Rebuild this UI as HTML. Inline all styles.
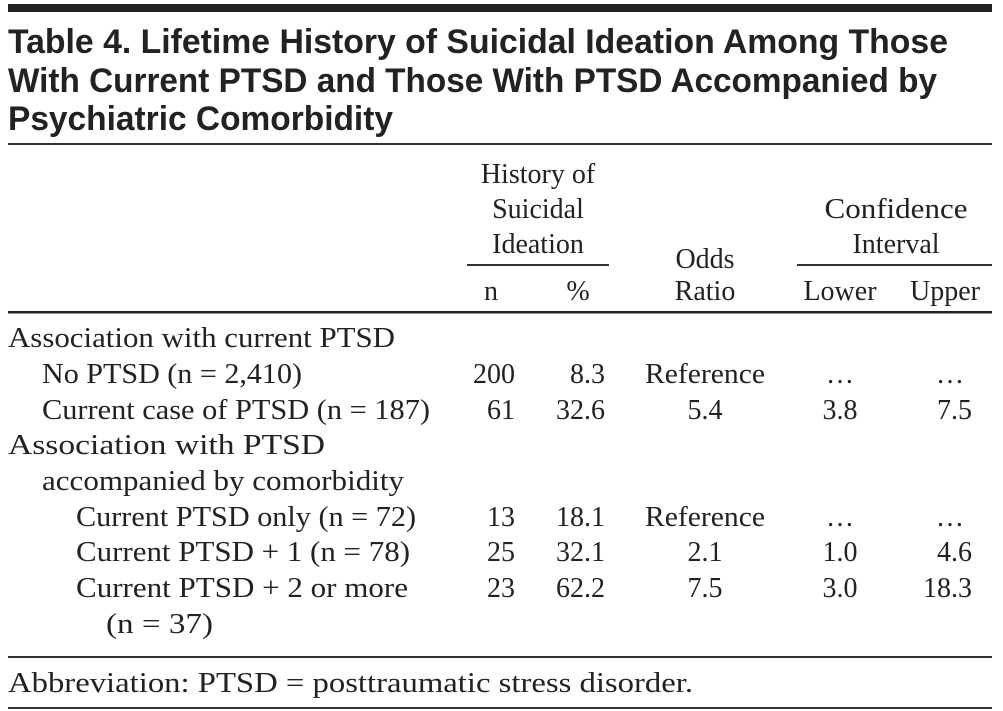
<!DOCTYPE html>
<html><head><meta charset="utf-8"><style>
html,body{margin:0;padding:0;background:#fff;}
svg{display:block;}
.t{font-family:"Liberation Sans",sans-serif;font-weight:bold;font-size:34px;fill:#222;}
.s{font-family:"Liberation Serif",serif;font-size:28px;fill:#222;}
</style></head><body>
<svg width="1003" height="711" viewBox="0 0 1003 711">
<rect x="8" y="4" width="984" height="8" fill="#222"/>
<g>
<text class="t" x="8" y="53" textLength="940" lengthAdjust="spacingAndGlyphs">Table 4. Lifetime History of Suicidal Ideation Among Those</text>
<text class="t" x="8" y="92" textLength="929" lengthAdjust="spacingAndGlyphs">With Current PTSD and Those With PTSD Accompanied by</text>
<text class="t" x="8" y="130" textLength="385" lengthAdjust="spacingAndGlyphs">Psychiatric Comorbidity</text>
</g>
<rect x="8" y="143" width="984" height="2" fill="#333"/>
<g text-anchor="middle">
<text class="s" x="538" y="183">History of</text>
<text class="s" x="538" y="218">Suicidal</text>
<text class="s" x="538" y="253">Ideation</text>
<text class="s" x="705" y="268">Odds</text>
<text class="s" x="705" y="300">Ratio</text>
<text class="s" x="896" y="218" textLength="143" lengthAdjust="spacingAndGlyphs">Confidence</text>
<text class="s" x="896" y="253">Interval</text>
<text class="s" x="491" y="300">n</text>
<text class="s" x="578" y="300">%</text>
<text class="s" x="840" y="300">Lower</text>
<text class="s" x="945" y="300">Upper</text>
</g>
<rect x="467" y="264" width="142" height="2" fill="#333"/>
<rect x="797" y="264" width="195" height="2" fill="#333"/>
<rect x="8" y="311" width="984" height="2.5" fill="#222"/>
<g>
<text class="s" x="8" y="347" textLength="387" lengthAdjust="spacingAndGlyphs">Association with current PTSD</text>
<text class="s" x="42" y="383" textLength="260" lengthAdjust="spacingAndGlyphs">No PTSD (n = 2,410)</text>
<text class="s" x="42" y="419" textLength="388" lengthAdjust="spacingAndGlyphs">Current case of PTSD (n = 187)</text>
<text class="s" x="8" y="454" textLength="317" lengthAdjust="spacingAndGlyphs">Association with PTSD</text>
<text class="s" x="42" y="490" textLength="362" lengthAdjust="spacingAndGlyphs">accompanied by comorbidity</text>
<text class="s" x="76" y="526" textLength="340" lengthAdjust="spacingAndGlyphs">Current PTSD only (n = 72)</text>
<text class="s" x="76" y="561" textLength="334" lengthAdjust="spacingAndGlyphs">Current PTSD + 1 (n = 78)</text>
<text class="s" x="76" y="597" textLength="332" lengthAdjust="spacingAndGlyphs">Current PTSD + 2 or more</text>
<text class="s" x="106" y="633" textLength="107" lengthAdjust="spacingAndGlyphs">(n = 37)</text>
</g>
<g>
<g text-anchor="end">
<text class="s" x="515" y="383">200</text><text class="s" x="605" y="383">8.3</text>
<text class="s" x="515" y="419">61</text><text class="s" x="605" y="419">32.6</text>
<text class="s" x="515" y="526">13</text><text class="s" x="605" y="526">18.1</text>
<text class="s" x="515" y="561">25</text><text class="s" x="605" y="561">32.1</text>
<text class="s" x="515" y="597">23</text><text class="s" x="605" y="597">62.2</text>
<text class="s" x="972" y="419">7.5</text>
<text class="s" x="972" y="561">4.6</text>
<text class="s" x="972" y="597">18.3</text>
</g>
<g text-anchor="middle">
<text class="s" x="705" y="383" textLength="120" lengthAdjust="spacingAndGlyphs">Reference</text><text class="s" x="840" y="383">…</text><text class="s" x="950" y="383">…</text>
<text class="s" x="705" y="419">5.4</text><text class="s" x="840" y="419">3.8</text>
<text class="s" x="705" y="526" textLength="120" lengthAdjust="spacingAndGlyphs">Reference</text><text class="s" x="840" y="526">…</text><text class="s" x="950" y="526">…</text>
<text class="s" x="705" y="561">2.1</text><text class="s" x="840" y="561">1.0</text>
<text class="s" x="705" y="597">7.5</text><text class="s" x="840" y="597">3.0</text>
</g>
</g>
<rect x="8" y="656" width="984" height="2" fill="#333"/>
<text class="s" x="8" y="692" textLength="685" lengthAdjust="spacingAndGlyphs">Abbreviation: PTSD = posttraumatic stress disorder.</text>
<rect x="8" y="707" width="984" height="2" fill="#333"/>
</svg>
</body></html>
